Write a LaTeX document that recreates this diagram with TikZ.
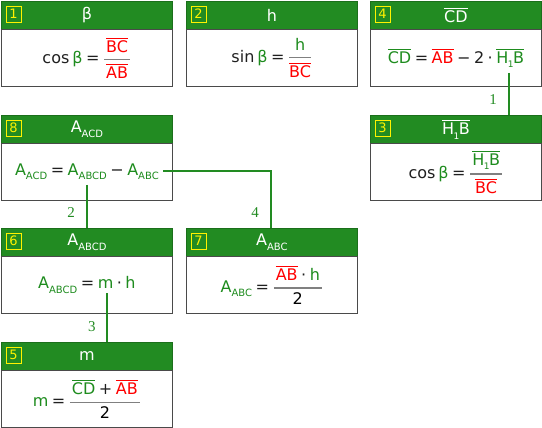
\documentclass[tikz,border=0pt]{standalone}
\usepackage{amsmath}
\usepackage{fontspec}
\setmainfont{DejaVu Sans}
\newfontfamily\lblfont{Liberation Serif}
\definecolor{hdr}{HTML}{228B22}
\definecolor{gtx}{HTML}{1E8C1E}
\definecolor{rtx}{HTML}{FF0000}
\definecolor{dtx}{HTML}{202020}
\definecolor{brd}{HTML}{4A4A4A}
\newcommand{\ovl}[1]{\ensuremath{\overline{\hbox{#1}}}}
\newcommand{\sbs}[1]{\raisebox{-0.5ex}{\fontsize{10}{10}\selectfont #1}}
\newcommand{\fracx}[2]{{\color{gray}$\genfrac{}{}{1.2pt}{0}{\hbox{\kern2pt#1\kern2pt}}{\hbox{#2}}$}}
\newcommand{\HoB}{H\kern-0.5pt\raisebox{-0.55ex}{\fontsize{9}{9}\selectfont 1}\kern-0.5pt B}
\newcommand{\op}[1]{\textcolor{dtx}{\kern3.5pt#1\kern3.5pt}}
\tikzset{
  hdrbox/.style={rectangle, fill=hdr, draw=hdr!80!black, line width=0.8pt, minimum width=171pt, minimum height=28pt, inner sep=0pt, anchor=north west, text=white, font=\fontsize{16}{19}\selectfont},
  bodybox/.style={rectangle, fill=white, draw=brd, line width=0.8pt, minimum width=171pt, minimum height=57pt, inner sep=0pt, anchor=north west, font=\fontsize{16}{19}\selectfont},
  numbox/.style={rectangle, draw=yellow, line width=0.8pt, text=yellow, minimum width=15pt, minimum height=16pt, inner sep=0pt, font=\fontsize{13}{13}\selectfont},
  conn/.style={draw=hdr, line width=1.8pt},
  clabel/.style={text=hdr, font=\lblfont\fontsize{15}{15}\selectfont, inner sep=0pt}
}
\begin{document}
\begin{tikzpicture}[x=1pt,y=-1pt]
\useasboundingbox (0,0) rectangle (542,428);
% ---- box 1
\node[hdrbox] (h1) at (1,1) {β};
\node[bodybox] (b1) at (1,29) {\textcolor{dtx}{cos\kern3pt}\textcolor{gtx}{β}\op{=}\fracx{\textcolor{rtx}{\ovl{BC}}}{\textcolor{rtx}{\ovl{AB}}}};
\node[numbox] (n1) at (13.5,14) {1};
% ---- box 2
\node[hdrbox] (h2) at (186,1) {h};
\node[bodybox] (b2) at (186,29) {\textcolor{dtx}{sin\kern3pt}\textcolor{gtx}{β}\op{=}\fracx{\textcolor{gtx}{h}}{\textcolor{rtx}{\ovl{BC}}}};
\node[numbox] (n2) at (198.5,14) {2};
% ---- box 4
\node[hdrbox] (h4) at (370,1) {\ovl{CD}};
\node[bodybox] (b4) at (370,29) {\textcolor{gtx}{\ovl{CD}}\op{=}\textcolor{rtx}{\ovl{AB}}\op{−}\textcolor{dtx}{2}\op{·}\textcolor{gtx}{\ovl{\HoB}}};
\node[numbox] (n4) at (382.5,14) {4};
% ---- box 3
\node[hdrbox] (h3) at (370,115) {\ovl{\HoB}};
\node[bodybox] (b3) at (370,143) {\textcolor{dtx}{cos\kern3pt}\textcolor{gtx}{β}\op{=}\fracx{\textcolor{gtx}{\ovl{\HoB}}}{\textcolor{rtx}{\ovl{BC}}}};
\node[numbox] (n3) at (382.5,128) {3};
% ---- box 8
\node[hdrbox] (h8) at (1,115) {A\sbs{ACD}};
\node[bodybox] (b8) at (1,143) {\textcolor{gtx}{A\sbs{ACD}}\op{=}\textcolor{gtx}{A\sbs{ABCD}}\op{−}\textcolor{gtx}{A\sbs{ABC}}};
\node[numbox] (n8) at (13.5,128) {8};
% ---- box 6
\node[hdrbox] (h6) at (1,228) {A\sbs{ABCD}};
\node[bodybox] (b6) at (1,256) {\textcolor{gtx}{A\sbs{ABCD}}\op{=}\textcolor{gtx}{m}\op{·}\textcolor{gtx}{h}};
\node[numbox] (n6) at (13.5,241) {6};
% ---- box 7
\node[hdrbox] (h7) at (186,228) {A\sbs{ABC}};
\node[bodybox] (b7) at (186,256) {\textcolor{gtx}{A\sbs{ABC}}\op{=}\fracx{\textcolor{rtx}{\ovl{AB}}\op{·}\textcolor{gtx}{h}}{\textcolor{black}{2}}};
\node[numbox] (n7) at (198.5,241) {7};
% ---- box 5
\node[hdrbox] (h5) at (1,342) {m};
\node[bodybox] (b5) at (1,370) {\textcolor{gtx}{m}\op{=}\fracx{\textcolor{gtx}{\ovl{CD}}\op{+}\textcolor{rtx}{\ovl{AB}}}{\textcolor{black}{2}}};
\node[numbox] (n5) at (13.5,355) {5};
% ---- connectors
\coordinate (s1) at (509,73);
\coordinate (s2) at (87,185);
\coordinate (s3) at (107,293);
\coordinate (s4) at (163,171);
\draw[conn] (s1) -- (s1 |- h3.north);
\draw[conn] (s2) -- (s2 |- h6.north);
\draw[conn] (s3) -- (s3 |- h5.north);
\draw[conn] (s4) -| (h7.north -| 271,0);
\node[clabel] (l1) at (493,100) {1};
\node[clabel] (l2) at (71,213) {2};
\node[clabel] (l3) at (92,327) {3};
\node[clabel] (l4) at (255,213) {4};
\end{tikzpicture}
\end{document}
